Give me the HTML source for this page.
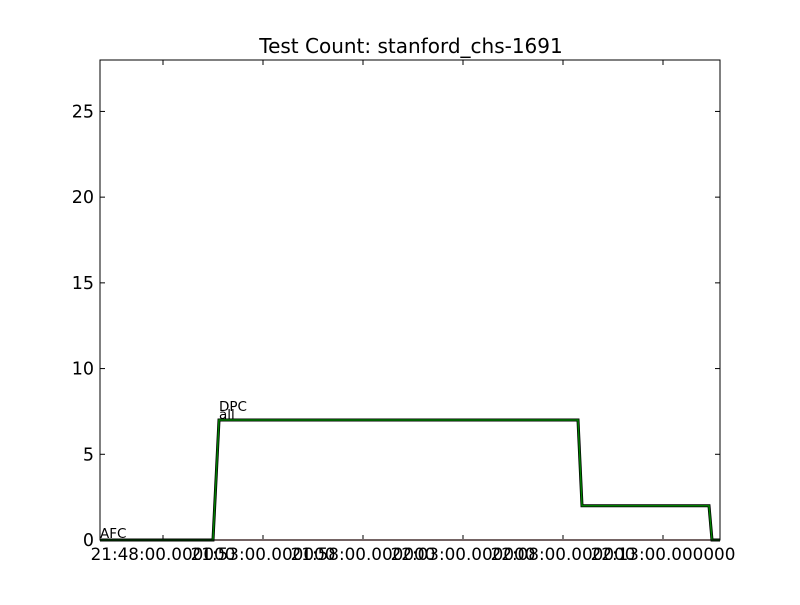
<!DOCTYPE html>
<html><head><meta charset="utf-8"><style>
body{margin:0;background:#fff}
svg text{font-family:"DejaVu Sans","Liberation Sans",sans-serif;fill:#000}
</style></head><body>
<svg id="c" width="800" height="600">
<rect x="0" y="0" width="800" height="600" fill="#fff"/>
<text x="411" y="53" font-size="20" text-anchor="middle">Test Count: stanford_chs-1691</text>
<g id="ticks"></g>
<g id="series"></g>
<rect x="100" y="60" width="620" height="480" fill="none" stroke="#000" stroke-width="1"/>
</svg>
<script>
const xTickVals=[0,5,10,15,20,25];
const xTickLabels=["21:48:00.000000","21:53:00.000000","21:58:00.000000","22:03:00.000000","22:08:00.000000","22:13:00.000000"];
const yTickVals=[0,5,10,15,20,25];
const tMinutes=[-3.15,2.5,2.8,20.75,20.95,27.3,27.45,27.85];
const allCounts=[0,0,7,7,2,2,0,0];
const dpcCounts=[0,0,7,7,2,2,0,0];
const afcCounts=[0,0,0,0,0,0,0,0];
const X=t=>163+t*20;
const Y=v=>540-v*(480/28);
const NS="http://www.w3.org/2000/svg";
const tg=document.getElementById('ticks'),sg=document.getElementById('series');
function mk(tag,attrs,parent){const e=document.createElementNS(NS,tag);for(const k in attrs)e.setAttribute(k,attrs[k]);parent.appendChild(e);return e;}
xTickVals.forEach((v,i)=>{
 const x=X(v);
 const t1=mk('line',{x1:x,x2:x,y1:540,y2:535,stroke:'#000'},tg);
 
 
 const t2=mk('line',{x1:x,x2:x,y1:60,y2:65,stroke:'#000'},tg);
 
 
 const l=mk('text',{x:x,y:560,'font-size':16.8,'text-anchor':'middle'},tg);
 l.textContent=xTickLabels[i];
 
 
});
yTickVals.forEach(v=>{
 const y=Y(v);
 const t1=mk('line',{x1:100,x2:105,y1:y,y2:y,stroke:'#000'},tg);
 
 
 const t2=mk('line',{x1:715,x2:720,y1:y,y2:y,stroke:'#000'},tg);
 
 
 const l=mk('text',{x:94,y:y+6,'font-size':17.5,'text-anchor':'end'},tg);
 l.textContent=v;
 
 
});
function pts(vals){return tMinutes.map((t,i)=>X(t)+','+Y(vals[i])).join(' ');}
const pa=mk('polyline',{points:pts(afcCounts),fill:'none',stroke:'#e8c8c8','stroke-width':2},sg);


const pl=mk('polyline',{points:pts(allCounts),fill:'none',stroke:'#000','stroke-width':3},sg);


const pd=mk('polyline',{points:pts(dpcCounts),fill:'none',stroke:'#007f00','stroke-width':1.5},sg);


const lab=[["AFC",X(tMinutes[0]),Y(afcCounts[0])-2],["DPC",X(tMinutes[2]),Y(dpcCounts[2])-9],["all",X(tMinutes[2]),Y(allCounts[2])-1]];
lab.forEach(a=>{const t=mk('text',{x:a[1],y:a[2],'font-size':13.5},sg);t.textContent=a[0];
 
 });
</script>
</body></html>
